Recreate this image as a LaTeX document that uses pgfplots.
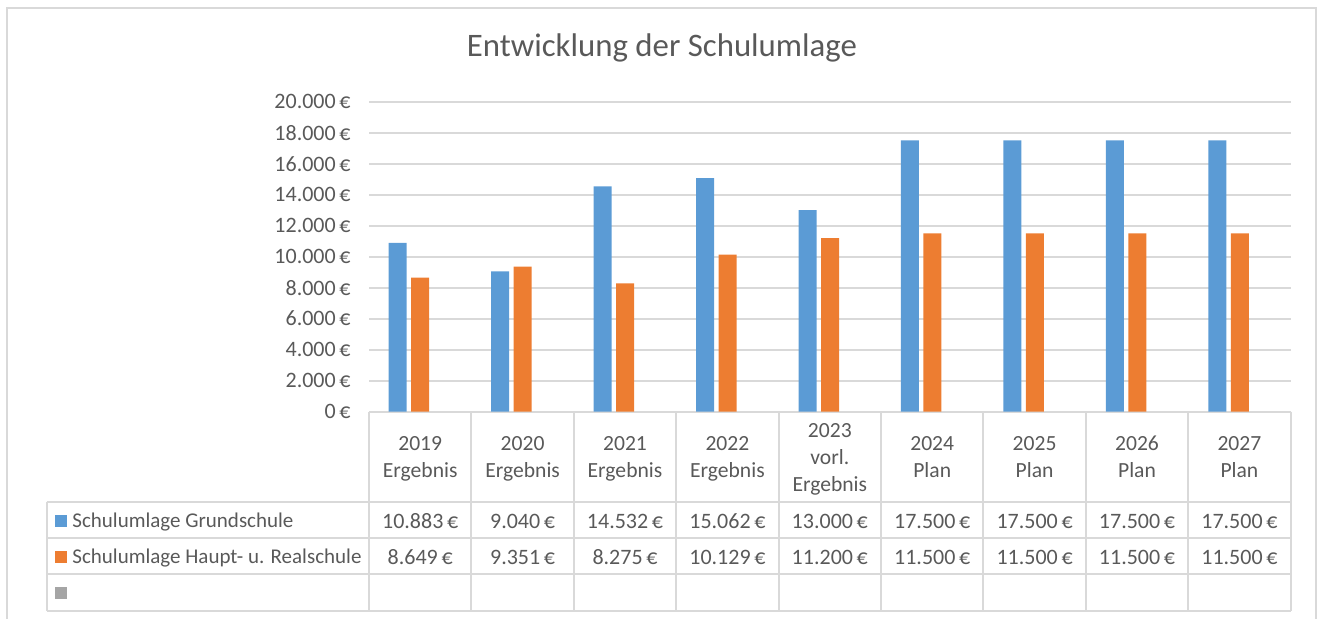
\documentclass[border=0pt]{standalone}
\usepackage{pgfplots}
\pgfplotsset{compat=1.18}
\usepackage{fontspec}
\setmainfont{Carlito}
\definecolor{cblue}{HTML}{5B9BD5}
\definecolor{corange}{HTML}{ED7D31}
\definecolor{cgray}{HTML}{A5A5A5}
\definecolor{ctext}{HTML}{595959}
\definecolor{cline}{HTML}{D9D9D9}
\begin{document}
\begin{tikzpicture}
\path[use as bounding box] (0pt,0pt) rectangle (658.5pt,-309pt);
\begin{scope}[x=0.5pt,y=-0.5pt]
% outer frame
\draw[cline, line width=1pt] (7,640) -- (7,8) -- (1316,8) -- (1316,640);
% title
\node[text=ctext, font=\fontsize{16.4}{19}\selectfont] at (662,48) {Entwicklung der Schulumlage};
% table lines
\begin{scope}[cline, line width=1pt]
\draw (46.7,501.7) -- (1291,501.7);
\draw (46.7,538.3) -- (1291,538.3);
\draw (46.7,574) -- (1291,574);
\draw (46.7,610.7) -- (1291,610.7);
\draw (46.7,501.7) -- (46.7,610.7);
\foreach \k in {0,...,9} {\draw (369+\k*102.4,411.5) -- (369+\k*102.4,610.7);}
\end{scope}
% header labels (two lines)
\foreach \a/\b [count=\i from 0] in {2019/Ergebnis,2020/Ergebnis,2021/Ergebnis,2022/Ergebnis,X/X,2024/Plan,2025/Plan,2026/Plan,2027/Plan}
  {\ifnum\i=4\else
   \node[text=ctext, anchor=base, font=\fontsize{10.8}{13}\selectfont] at (420.2+\i*102.4,450) {\a};
   \node[text=ctext, anchor=base, font=\fontsize{10.8}{13}\selectfont] at (420.2+\i*102.4,477) {\b};
   \fi}
% three-line header
\node[text=ctext, anchor=base, font=\fontsize{10.8}{13}\selectfont] at (420.2+4*102.4,437) {2023};
\node[text=ctext, anchor=base, font=\fontsize{10.8}{13}\selectfont] at (420.2+4*102.4,464) {vorl.};
\node[text=ctext, anchor=base, font=\fontsize{10.8}{13}\selectfont] at (420.2+4*102.4,491) {Ergebnis};
% row 1
\fill[cblue] (54.5,514.5) rectangle (66.5,526.5);
\node[text=ctext, anchor=base west, font=\fontsize{10.5}{13}\selectfont, inner sep=0pt] at (72,527) {Schulumlage Grundschule};
\foreach \v [count=\i from 0] in {10.883,9.040,14.532,15.062,13.000,17.500,17.500,17.500,17.500}
  {\node[text=ctext, anchor=base, inner sep=0pt, font=\fontsize{11}{13.5}\selectfont] at (420.2+\i*102.4,528) {\v\,€};}
% row 2
\fill[corange] (54.5,550.5) rectangle (66.5,562.5);
\node[text=ctext, anchor=base west, font=\fontsize{10.5}{13}\selectfont, inner sep=0pt] at (72,563.5) {Schulumlage Haupt- u. Realschule};
\foreach \v [count=\i from 0] in {8.649,9.351,8.275,10.129,11.200,11.500,11.500,11.500,11.500}
  {\node[text=ctext, anchor=base, inner sep=0pt, font=\fontsize{11}{13.5}\selectfont] at (420.2+\i*102.4,564) {\v\,€};}
% row 3
\fill[cgray] (54.5,587) rectangle (66.5,599);
\end{scope}
\begin{axis}[
  at={(184.5pt,-205.75pt)}, anchor=south west,
  scale only axis, width=461pt, height=154.9pt,
  xmin=-0.5, xmax=8.5, ymin=0, ymax=20000,
  axis line style={draw=none},
  xtick=\empty,
  ytick={0,2000,...,20000},
  scaled y ticks=false,
  yticklabels={0\,€,2.000\,€,4.000\,€,6.000\,€,8.000\,€,10.000\,€,12.000\,€,14.000\,€,16.000\,€,18.000\,€,20.000\,€},
  yticklabel style={text=ctext, font=\fontsize{11}{13.5}\selectfont, inner sep=0pt, xshift=-9pt},
  major tick length=0pt,
  ymajorgrids, major grid style={cline, line width=1pt},
  ybar, bar width=9pt,
  clip=false,
]
\addplot[fill=cblue, draw=none, bar shift=-11.25pt] coordinates {(0,10883) (1,9040) (2,14532) (3,15062) (4,13000) (5,17500) (6,17500) (7,17500) (8,17500)};
\addplot[fill=corange, draw=none, bar shift=0pt] coordinates {(0,8649) (1,9351) (2,8275) (3,10129) (4,11200) (5,11500) (6,11500) (7,11500) (8,11500)};
\end{axis}
\end{tikzpicture}
\end{document}
